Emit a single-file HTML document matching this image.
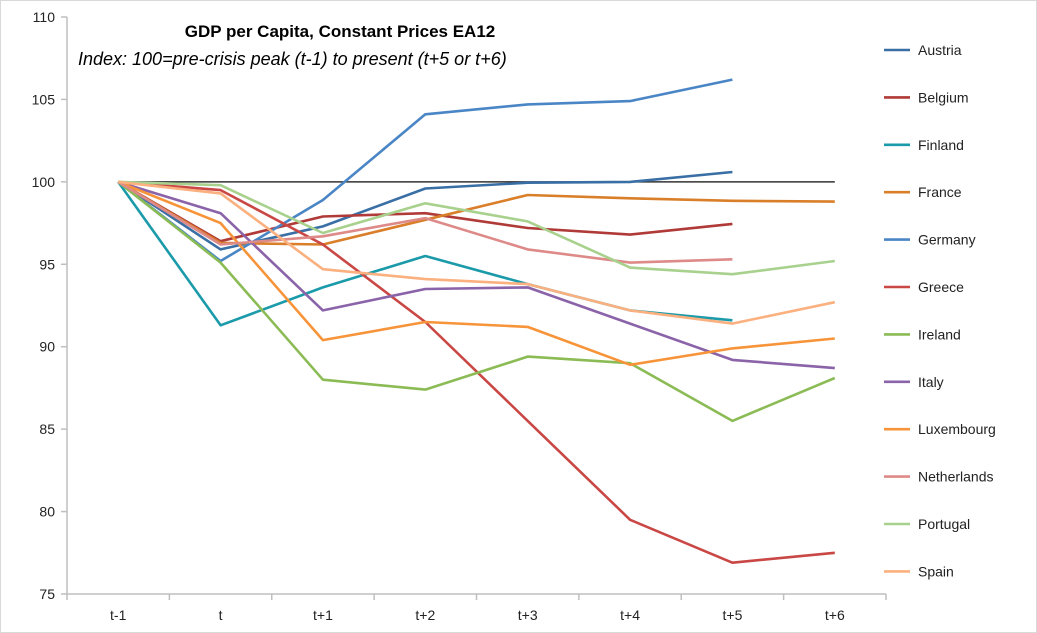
<!DOCTYPE html>
<html><head><meta charset="utf-8"><style>
body{margin:0;background:#fff;}
svg{display:block;font-family:"Liberation Sans",sans-serif;}
</style></head><body>
<svg id="chart" width="1037" height="633">
<rect x="0.5" y="0.5" width="1036" height="632" fill="#fff" stroke="#d9d9d9"/>
<g id="axes"></g><g id="lines"></g><g id="legend"></g>
<text x="340" y="37" text-anchor="middle" font-size="17" font-weight="bold">GDP per Capita, Constant Prices EA12</text>
<text x="78" y="65" font-size="18" font-style="italic">Index: 100=pre-crisis peak (t-1) to present (t+5 or t+6)</text>
</svg>
<script>
const categories=["t-1","t","t+1","t+2","t+3","t+4","t+5","t+6"];
const yTicks=[75,80,85,90,95,100,105,110];
const countries=["Austria","Belgium","Finland","France","Germany","Greece","Ireland","Italy","Luxembourg","Netherlands","Portugal","Spain"];
const colors=["#3a6fa5","#b03a37","#1b9aaa","#d97f2a","#4a86c5","#c94744","#8bbb55","#8a63a8","#f7943a","#dd8a88","#a9d18e","#fbb07f"];
const austria=[100,95.9,97.3,99.6,99.95,100.0,100.6,null];
const belgium=[100,96.4,97.9,98.1,97.2,96.8,97.45,null];
const finland=[100,91.3,93.6,95.5,93.8,92.2,91.6,null];
const france=[100,96.3,96.2,97.7,99.2,99.0,98.85,98.8];
const germany=[100,95.2,98.9,104.1,104.7,104.9,106.2,null];
const greece=[100,99.5,96.2,91.5,85.5,79.5,76.9,77.5];
const ireland=[100,95.1,88.0,87.4,89.4,89.0,85.5,88.1];
const italy=[100,98.1,92.2,93.5,93.6,91.4,89.2,88.7];
const luxembourg=[100,97.5,90.4,91.5,91.2,88.9,89.9,90.5];
const netherlands=[100,96.2,96.7,97.8,95.9,95.1,95.3,null];
const portugal=[100,99.8,96.9,98.7,97.6,94.8,94.4,95.2];
const spain=[100,99.3,94.7,94.1,93.8,92.2,91.4,92.7];
const series=[austria,belgium,finland,france,germany,greece,ireland,italy,luxembourg,netherlands,portugal,spain];
const NS="http://www.w3.org/2000/svg";
const X0=67,X1=886,Y0=594,Y1=17,YMIN=75,YMAX=110;
const step=(X1-X0)/categories.length;
const xs=i=>X0+step*(i+0.5);
const ys=v=>Y0-(v-YMIN)/(YMAX-YMIN)*(Y0-Y1);
function mk(tag,at,parent){const e=document.createElementNS(NS,tag);for(const k in at)e.setAttribute(k,at[k]);parent.appendChild(e);return e;}
const ax=document.getElementById('axes');
let a=mk('line',{x1:X0,y1:Y1,x2:X0,y2:Y0,stroke:'#bfbfbf','stroke-width':1.5},ax);


a=mk('line',{x1:X0,y1:Y0,x2:X1,y2:Y0,stroke:'#bfbfbf','stroke-width':1.5},ax);


yTicks.forEach(v=>{
 mk('line',{x1:X0-6,y1:ys(v),x2:X0,y2:ys(v),stroke:'#bfbfbf','stroke-width':1.5},ax);
 const t=mk('text',{x:X0-12,y:ys(v)+5,'text-anchor':'end','font-size':14,fill:'#222'},ax);
 t.textContent=v;
 
 
});
for(let i=0;i<=categories.length;i++)mk('line',{x1:X0+step*i,y1:Y0,x2:X0+step*i,y2:Y0+6,stroke:'#bfbfbf','stroke-width':1.5},ax);
categories.forEach((c,i)=>{
 const t=mk('text',{x:xs(i),y:Y0+26,'text-anchor':'middle','font-size':14,fill:'#222'},ax);
 t.textContent=c;
 
 
});
const ref=mk('line',{x1:xs(0),y1:ys(100),x2:xs(7),y2:ys(100),stroke:'#333','stroke-width':1.5},ax);


const lg=document.getElementById('lines');
series.forEach((s,k)=>{
 const pts=[];s.forEach((v,i)=>{if(v!==null)pts.push(xs(i).toFixed(1)+','+ys(v).toFixed(1));});
 const p=mk('polyline',{points:pts.join(' '),fill:'none',stroke:colors[k],'stroke-width':2.6,'stroke-linejoin':'round'},lg);
 
 
});
const leg=document.getElementById('legend');
countries.forEach((c,k)=>{
 const y=50+k*47.4;
 const g=mk('g',{},leg);
 
 
 mk('line',{x1:884,y1:y,x2:910,y2:y,stroke:colors[k],'stroke-width':2.6},g);
 const t=mk('text',{x:918,y:y+5,'font-size':14,fill:'#222'},g);
 t.textContent=c;
});
</script>
</body></html>
